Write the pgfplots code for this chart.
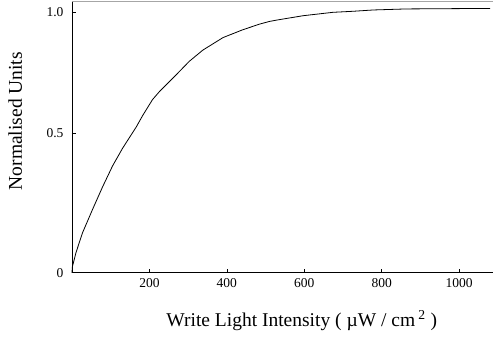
\documentclass[border=0pt]{standalone}
\usepackage{fontspec}
\setmainfont{Liberation Serif}
\usepackage{pgfplots}
\pgfplotsset{compat=1.18}
\begin{document}
\begin{tikzpicture}
\begin{axis}[
  scale only axis,
  width=421pt, height=271pt,
  xmin=0, xmax=1087,
  ymin=0, ymax=1.04,
  axis x line*=bottom,
  axis y line*=left,
  axis line style={line width=0.7pt},
  tick align=inside,
  major tick length=4pt,
  tick style={black, line width=0.7pt},
  xtick={200,400,600,800,1000},
  ytick={0,0.535,1},
  yticklabels={0,0.5,1.0},
  /pgf/number format/assume math mode=true,
  /pgf/number format/1000 sep={},
  ticklabel style={font=\fontsize{13.5}{14}\selectfont},
  xticklabel style={yshift=-2pt},
  yticklabel style={xshift=-5pt},
  xlabel={Write Light Intensity ( \textmu W / cm\,\textsuperscript{2} )},
  ylabel={Normalised Units},
  label style={font=\fontsize{19.5}{21}\selectfont},
  xlabel style={at={(axis description cs:0.546,-0.177)}, anchor=center},
  ylabel style={at={(axis description cs:-0.135,0.56)}, anchor=center},
  clip=false,
]
\addplot[black, line width=0.8pt] coordinates {
(0,0) (1,0.023) (10,0.076) (27,0.153) (53,0.243) (79,0.330) (105,0.411)
(131,0.479) (166,0.560) (183,0.605) (208,0.665) (226,0.696) (269,0.760)
(303,0.812) (338,0.855) (390,0.903) (441,0.933) (485,0.955) (510,0.965) (528,0.970)
(597,0.987) (674,1.000) (726,1.004) (778,1.009) (864,1.013) (1080,1.015)
};
\draw[gray!70, line width=0.8pt] (rel axis cs:0,1) -- (rel axis cs:1,1);
\path (rel axis cs:-0.171,-0.251) rectangle (rel axis cs:1.005,1.007);
\end{axis}
\end{tikzpicture}
\end{document}
